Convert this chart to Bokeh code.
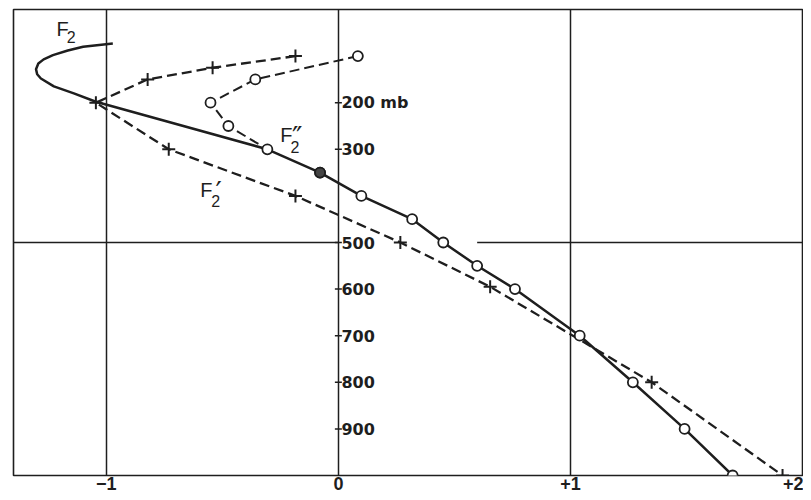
from bokeh.plotting import figure
from bokeh.models import Range1d, FixedTicker, Label
from bokeh.core.properties import value
from bokeh.embed import file_html
from bokeh.resources import INLINE

# ---- data ----
# pressure levels (mb) shown on the central axis
p_ticks = [200, 300, 500, 600, 700, 800, 900]
p_tick_labels = ["200 mb", "300", "500", "600", "700", "800", "900"]
x_ticks = [-1, 0, 1, 2]
x_tick_labels = ["\u22121", "0", "+1", "+2"]

# F2 (solid curve)
f2_x = [-0.972, -1.10, -1.166, -1.230, -1.270, -1.293, -1.303, -1.298, -1.282, -1.226, -1.14, -1.045,
        -0.306, -0.079, 0.099, 0.318, 0.452, 0.598, 0.761, 1.04, 1.269, 1.492, 1.699]
f2_p = [73, 80, 88, 98, 107, 116, 128, 139, 148, 165, 180, 198,
        300, 350, 400, 450, 500, 550, 600, 700, 800, 900, 1000]

# F2'' (circles; dashed above 300 mb, on the solid curve below)
f2pp_p = [100, 150, 200, 250, 300, 350, 400, 450, 500, 550, 600, 700, 800, 900, 1000]
f2pp_x = [0.084, -0.358, -0.551, -0.474, -0.306, -0.079, 0.099, 0.318, 0.452, 0.598,
          0.761, 1.04, 1.269, 1.492, 1.699]
f2pp_dashed_p = [100, 150, 200, 250, 300]
f2pp_dashed_x = [0.084, -0.358, -0.551, -0.474, -0.306]
f2pp_filled_p = [350]
f2pp_filled_x = [-0.079]

# F2' (crosses, dashed)
f2p_p = [100, 125, 150, 200, 300, 400, 500, 595, 800, 1000]
f2p_x = [-0.185, -0.542, -0.822, -1.045, -0.731, -0.185, 0.267, 0.654, 1.35, 1.914]

ref_p = 500
x_min, x_max = -1.4, 2.0

INK = "#1e1e1e"

p = figure(width=803, height=492, x_range=Range1d(x_min, x_max), y_range=Range1d(1000, 0),
           output_backend="svg", toolbar_location=None,
           min_border_left=13, min_border_right=1, min_border_top=9, min_border_bottom=0)
p.background_fill_color = "white"
p.border_fill_color = "white"
p.outline_line_color = INK
p.outline_line_width = 1.6

p.yaxis.visible = False
p.ygrid.visible = False

xa = p.xaxis[0]
xa.ticker = FixedTicker(ticks=x_ticks)
xa.major_label_overrides = {t: l for t, l in zip(x_ticks, x_tick_labels)}
xa.axis_line_color = None
xa.major_tick_line_color = None
xa.minor_tick_line_color = None
xa.major_tick_out = 0
xa.major_tick_in = 0
xa.major_label_standoff = 1
xa.major_label_text_font = "Liberation Sans"
xa.major_label_text_font_size = "18px"
xa.major_label_text_font_style = "bold"
xa.major_label_text_color = INK

p.xgrid.ticker = FixedTicker(ticks=[-1, 0, 1])
p.xgrid.grid_line_color = INK
p.xgrid.grid_line_width = 1.5

# 500 mb reference line (interrupted where the label and curves sit)
p.segment(x0=[x_min, 0.598], y0=[ref_p, ref_p], x1=[0, x_max], y1=[ref_p, ref_p],
          line_color=INK, line_width=1.5)

# tick marks and labels on the central axis
p.scatter(x=[0] * len(p_ticks), y=p_ticks, marker="dash", size=7, line_color=INK, line_width=1.5)
p.text(x=[0] * len(p_ticks), y=p_ticks, text=p_tick_labels, x_offset=3,
       text_baseline="middle", text_align="left",
       text_font=value("DejaVu Sans"), text_font_size="16px", text_font_style="bold",
       text_color=INK)

# curves
p.line(f2_x, f2_p, line_color=INK, line_width=2.5)
p.line(f2pp_dashed_x, f2pp_dashed_p, line_color=INK, line_width=2.0, line_dash="10 5")
p.line(f2p_x, f2p_p, line_color=INK, line_width=2.3, line_dash="10 5")

p.scatter(f2p_x, f2p_p, marker="cross", size=13, line_color=INK, line_width=2)
p.scatter(f2pp_x, f2pp_p, marker="circle", size=10, fill_color="white", line_color=INK, line_width=1.8)
p.scatter(f2pp_filled_x, f2pp_filled_p, marker="circle", size=10, fill_color="#444", line_color=INK, line_width=1.8)

# curve names
def name(xf, yf, x2, y2, prime=None, xpr=None, ypr=None):
    p.add_layout(Label(x=xf, y=yf, text="F", text_font="Liberation Sans", text_font_size="20px",
                       text_color=INK, text_baseline="alphabetic"))
    p.add_layout(Label(x=x2, y=y2, text="2", text_font="Liberation Sans", text_font_size="16px",
                       text_color=INK, text_baseline="alphabetic"))
    if prime:
        p.add_layout(Label(x=xpr, y=ypr, text=prime, text_font="DejaVu Sans", text_font_size="28px",
                           text_color=INK, text_baseline="alphabetic"))

name(-1.215, 41, -1.170, 58)
name(-0.250, 270, -0.206, 295, "\u2033", -0.200, 275)
name(-0.595, 387, -0.548, 412, "\u2032", -0.530, 393)

open("out.html", "w").write(file_html(p, INLINE))
